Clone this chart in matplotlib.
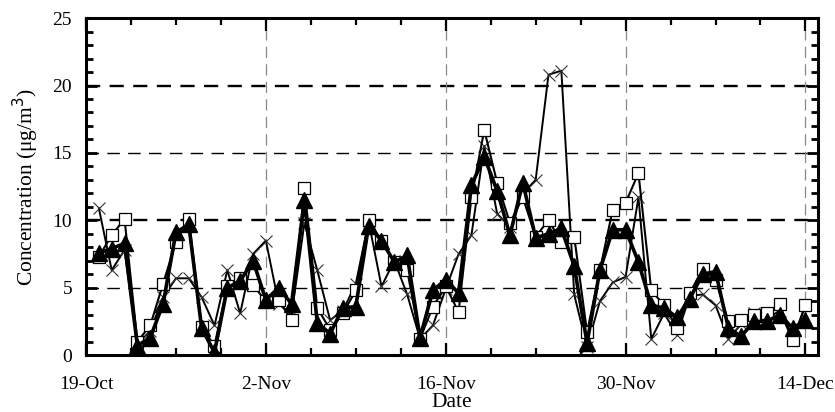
import matplotlib
matplotlib.use("Agg")
import matplotlib.pyplot as plt
from matplotlib.ticker import MultipleLocator
import pandas as pd
import datetime as dt

plt.rcParams['font.family'] = ['Liberation Serif', 'DejaVu Serif']

dates = pd.date_range('2015-10-20', periods=56, freq='D')

series_x = [10.9, 6.3, 7.8, 0.8, 1.8, 4.3, 5.7, 5.7, 4.3, 2.2,
            6.3, 3.1, 7.5, 8.5, 3.8, 3.0, 9.8, 6.3, 2.6, 3.3,
            5.3, 9.9, 5.1, 7.0, 4.5, 1.2, 2.2, 4.9, 7.5, 8.9,
            15.5, 10.5, 9.5, 12.0, 13.0, 20.8, 21.1, 4.5, 0.6, 4.0,
            5.4, 5.8, 11.7, 1.2, 3.1, 1.5, 4.4, 4.5, 3.7, 1.2,
            2.3, 3.1, 2.7, 3.3, 1.1, 3.7]

series_sq = [7.3, 8.9, 10.1, 1.0, 2.2, 5.3, 8.4, 10.1, 2.1, 0.7,
             5.1, 5.7, 5.2, 4.0, 4.1, 2.6, 12.4, 3.5, 1.9, 3.1,
             4.8, 10.0, 8.5, 6.9, 6.3, 1.2, 3.6, 5.1, 3.2, 11.7,
             16.7, 12.8, 9.8, 11.7, 8.8, 10.0, 8.4, 8.8, 1.7, 6.3,
             10.8, 11.3, 13.5, 4.8, 3.7, 2.0, 4.6, 6.4, 5.6, 2.5,
             2.6, 3.0, 3.1, 3.8, 1.1, 3.7]

series_tri = [7.6, 7.9, 8.3, 0.7, 1.3, 3.8, 9.1, 9.7, 2.0, 0.2,
              5.0, 5.5, 7.0, 4.1, 5.0, 3.8, 11.5, 2.4, 1.6, 3.5,
              3.6, 9.6, 8.5, 6.9, 7.4, 1.3, 4.8, 5.6, 4.6, 12.6,
              14.7, 12.2, 8.9, 12.8, 8.7, 9.0, 9.4, 6.6, 0.9, 6.3,
              9.3, 9.3, 6.9, 3.7, 3.5, 2.8, 4.2, 6.0, 6.2, 2.0,
              1.4, 2.5, 2.5, 3.0, 2.0, 2.6]

x_tick_dates = ['2015-10-19', '2015-11-02', '2015-11-16', '2015-11-30', '2015-12-14']
x_tick_labels = ['19-Oct', '2-Nov', '16-Nov', '30-Nov', '14-Dec']
y_ticks = [0, 5, 10, 15, 20, 25]

fig = plt.figure(figsize=(8.35, 4.12), dpi=100)
ax = fig.add_axes([0.103, 0.138, 0.877, 0.818])

start = dt.datetime(2015, 10, 19)
end = start + dt.timedelta(days=57)

# grid lines
for v in [5, 15]:
    ax.axhline(v, color='black', lw=1.0, ls=(0, (9, 6)), zorder=1)
for v in [10, 20]:
    ax.axhline(v, color='black', lw=1.7, ls=(0, (6, 4)), zorder=1)
for d in x_tick_dates[1:]:
    ax.axvline(pd.Timestamp(d), color='#888888', lw=0.9, ls=(0, (9, 5)), zorder=1)

ax.plot(dates, series_x, color='black', lw=1.4, marker='x', markersize=8.5,
        markeredgewidth=0.8, markeredgecolor='#333333', zorder=3)
ax.plot(dates, series_sq, color='black', lw=1.5, marker='s', markersize=8.5,
        markerfacecolor='white', markeredgecolor='black', markeredgewidth=0.9,
        zorder=4)
ax.plot(dates, series_tri, color='black', lw=2.6, marker='^', markersize=11,
        markerfacecolor='black', markeredgecolor='black', zorder=5)

ax.set_xlim(start, end)
ax.set_ylim(0, 25)

ax.set_xticks([pd.Timestamp(d) for d in x_tick_dates])
ax.set_xticklabels(x_tick_labels)
minor = [start + dt.timedelta(days=3.5 * i) for i in range(17)]
ax.set_xticks(minor, minor=True)
ax.set_yticks(y_ticks)
ax.yaxis.set_minor_locator(MultipleLocator(1))

ax.tick_params(axis='both', which='both', direction='in', top=True, right=True,
               labelsize=14, width=1.6)
ax.tick_params(axis='x', which='major', length=9, pad=15)
ax.tick_params(axis='x', which='minor', length=5)
ax.tick_params(axis='y', which='both', length=5, width=2)
ax.tick_params(axis='y', which='major', length=8, pad=10)

for s in ax.spines.values():
    s.set_linewidth(2.2)

ax.set_xlabel('Date', fontsize=15.5, labelpad=0)
ax.set_ylabel('Concentration (μg/m$^3$)', fontsize=15.5, labelpad=8)

fig.savefig('out.png', dpi=100)
